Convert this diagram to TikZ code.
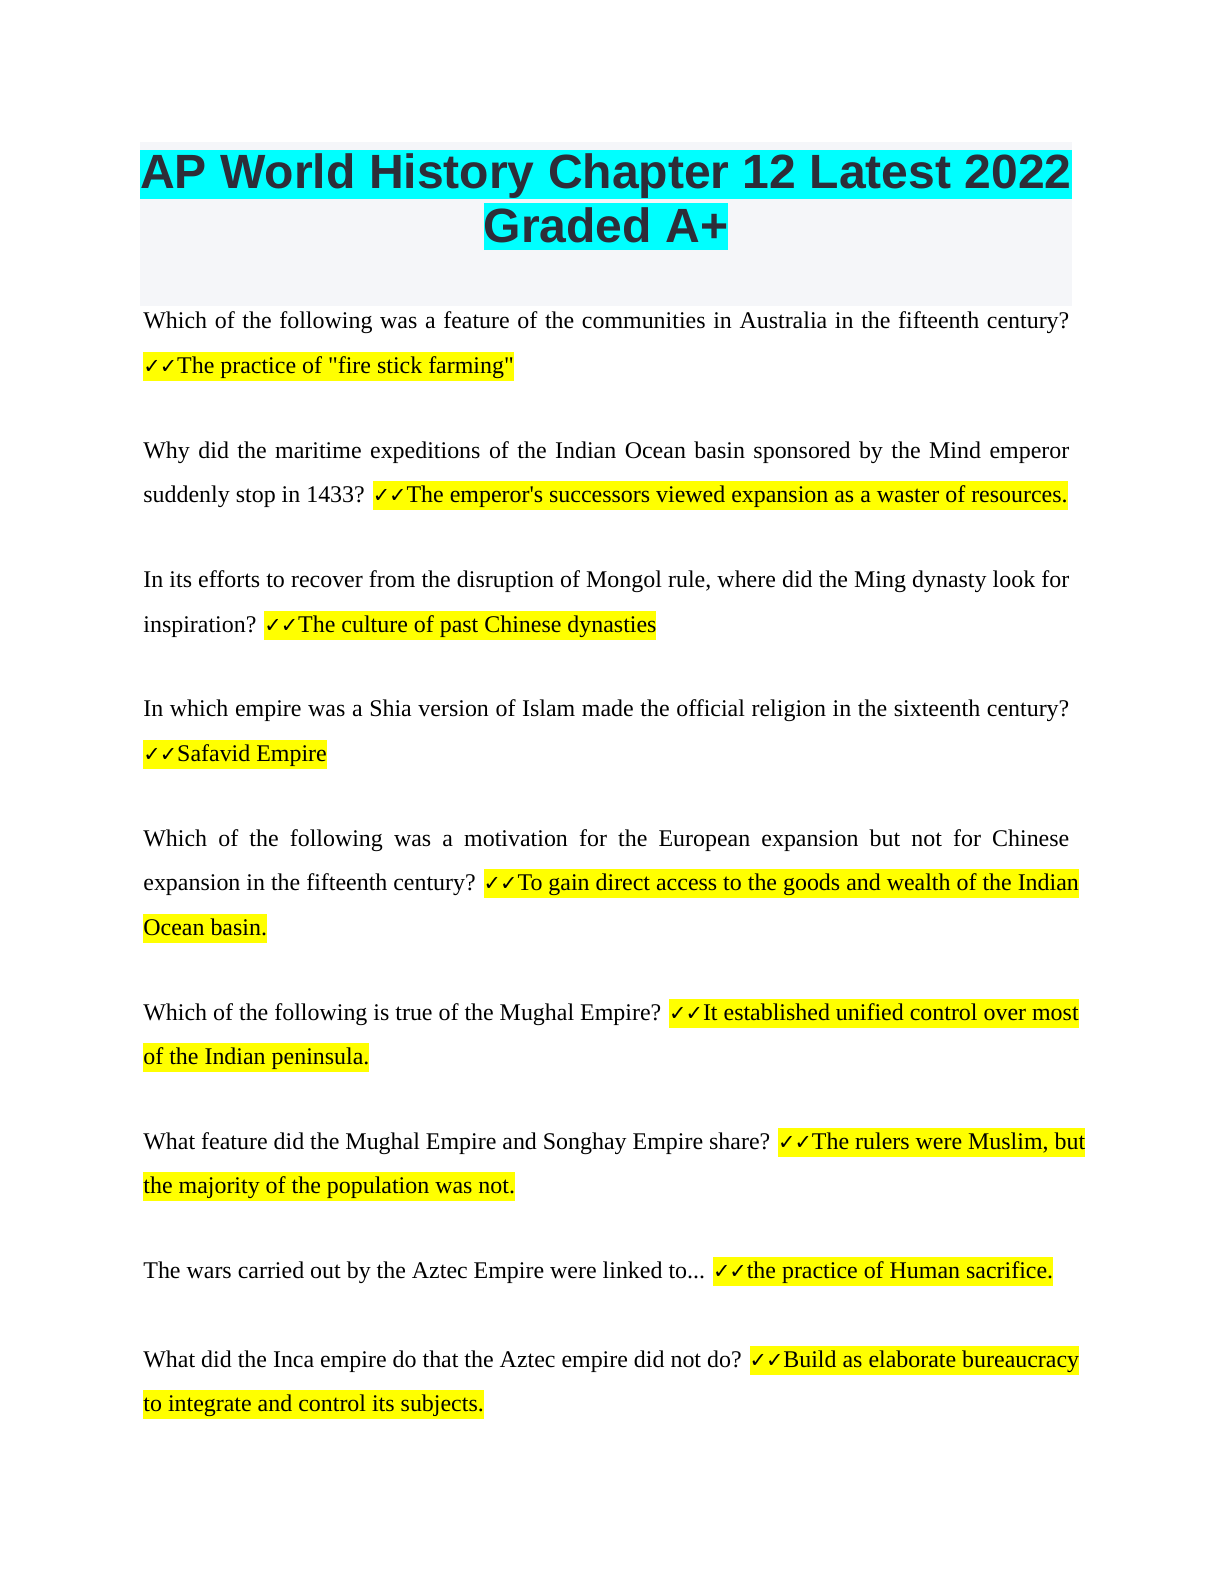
\documentclass[tikz,border=0pt]{standalone}
\usepackage{fontspec}
\setmainfont{Liberation Serif}
\newfontfamily\titlefont{Liberation Sans}
\newfontfamily\ckfont{DejaVu Sans}
\definecolor{hly}{HTML}{FFFF00}
\definecolor{hlc}{HTML}{00FFFF}
\definecolor{boxg}{HTML}{F5F6F9}
\definecolor{ttl}{HTML}{2D2D38}
\newcommand\ck{{\ckfont\bfseries\fontsize{10.5pt}{12pt}\selectfont ✓\kern-0.5pt✓}}
\newcommand\hlans[1]{{\setlength\fboxsep{0pt}\colorbox{hly}{\rule[-4pt]{0pt}{14.5pt}#1}}}
\newcommand\hltitle[1]{{\setlength\fboxsep{0pt}\colorbox{hlc}{\rule[-4pt]{0pt}{23.5pt}#1}}}
\newcommand\jl[1]{\makebox[468pt][s]{#1}}
\begin{document}
\begin{tikzpicture}[x=1.011pt,y=1.011pt,
  txt/.style={anchor=base west,inner sep=0pt,font=\fontsize{12.1pt}{14pt}\selectfont},
  ttxt/.style={anchor=base,inner sep=0pt,font=\titlefont\bfseries\fontsize{24.3pt}{28pt}\selectfont,text=ttl}]
\useasboundingbox (0,0) rectangle (612,-792);
\fill[white] (0,0) rectangle (612,-792);
\fill[boxg] (70,-71) rectangle (536,-153);
\node[ttxt] (t1) at (303,-94.5) {\hltitle{AP World History Chapter 12 Latest 2022}};
\node[ttxt] (t2) at (303,-121) {\hltitle{Graded A+}};
\node[txt] (a1) at (71.5,-164) {\jl{Which of the following was a feature of the communities in Australia in the fifteenth century?}};
\node[txt] (a2) at (71.5,-186.5) {\hlans{\ck The practice of \textquotedbl fire stick farming\textquotedbl}};
\node[txt] (b1) at (71.5,-229) {\jl{Why did the maritime expeditions of the Indian Ocean basin sponsored by the Mind emperor}};
\node[txt] (b2) at (71.5,-251) {suddenly stop in 1433? \hlans{\ck The emperor\textquotesingle s successors viewed expansion as a waster of resources.}};
\node[txt] (c1) at (71.5,-293.5) {\jl{In its efforts to recover from the disruption of Mongol rule, where did the Ming dynasty look for}};
\node[txt] (c2) at (71.5,-316) {inspiration? \hlans{\ck The culture of past Chinese dynasties}};
\node[txt] (d1) at (71.5,-358) {\jl{In which empire was a Shia version of Islam made the official religion in the sixteenth century?}};
\node[txt] (d2) at (71.5,-380.5) {\hlans{\ck Safavid Empire}};
\node[txt] (e1) at (71.5,-423) {\jl{Which of the following was a motivation for the European expansion but not for Chinese}};
\node[txt] (e2) at (71.5,-445) {expansion in the fifteenth century? \hlans{\ck To gain direct access to the goods and wealth of the Indian}};
\node[txt] (e3) at (71.5,-467.5) {\hlans{Ocean basin.}};
\node[txt] (f1) at (71.5,-510) {Which of the following is true of the Mughal Empire? \hlans{\ck It established unified control over most}};
\node[txt] (f2) at (71.5,-532) {\hlans{of the Indian peninsula.}};
\node[txt] (g1) at (71.5,-574.5) {What feature did the Mughal Empire and Songhay Empire share? \hlans{\ck The rulers were Muslim, but}};
\node[txt] (g2) at (71.5,-596.5) {\hlans{the majority of the population was not.}};
\node[txt] (h1) at (71.5,-639) {The wars carried out by the Aztec Empire were linked to... \hlans{\ck the practice of Human sacrifice.}};
\node[txt] (i1) at (71.5,-683.5) {What did the Inca empire do that the Aztec empire did not do? \hlans{\ck Build as elaborate bureaucracy}};
\node[txt] (i2) at (71.5,-705.5) {\hlans{to integrate and control its subjects.}};
\end{tikzpicture}
\end{document}
